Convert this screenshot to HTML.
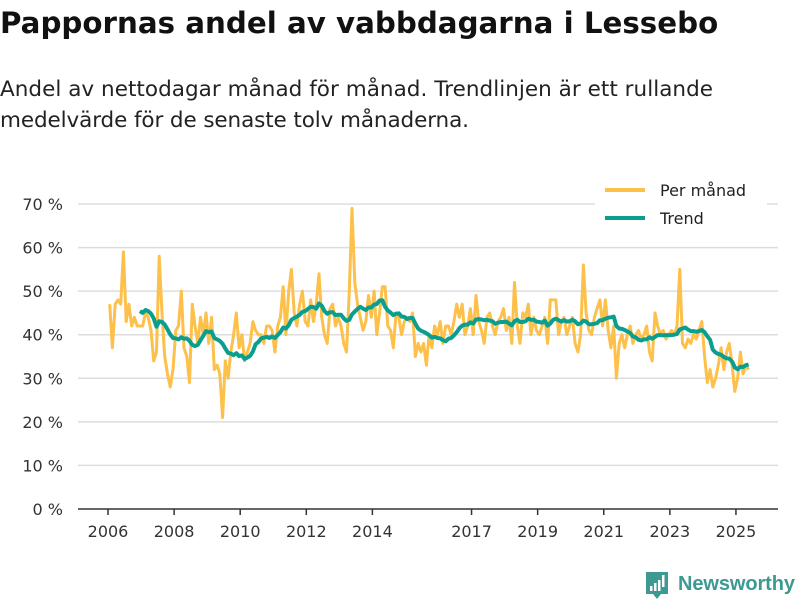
<!DOCTYPE html>
<html><head><meta charset="utf-8">
<style>
body{margin:0;background:#fff;width:800px;height:600px;overflow:hidden;font-family:"Liberation Sans","DejaVu Sans",sans-serif;}
svg text{font-family:"DejaVu Sans","Liberation Sans",sans-serif;}
</style></head>
<body>
<svg id="chart" width="800" height="600">
<text x="0" y="33" font-size="29.3" font-weight="bold" fill="#111">Pappornas andel av vabbdagarna i Lessebo</text>
<text x="0" y="96" font-size="21.5" fill="#222" textLength="713">Andel av nettodagar månad för månad. Trendlinjen är ett rullande</text>
<text x="0" y="127" font-size="21.5" fill="#222" textLength="469">medelvärde för de senaste tolv månaderna.</text>
<g id="grid"></g>
<g id="yaxis"></g>
<g id="xaxis"></g>
<g id="series"></g>
<g>
<rect x="595" y="176" width="172" height="56" fill="#fff"/>
<line x1="605" y1="190" x2="645" y2="190" stroke="#fdc04a" stroke-width="4"/>
<text x="660" y="196" font-size="16" fill="#222">Per månad</text>
<line x1="605" y1="218" x2="645" y2="218" stroke="#0a9e8e" stroke-width="4"/>
<text x="660" y="224" font-size="16" fill="#222">Trend</text>
</g>
<g>
<path d="M646 572 h22 v22 h-7 l-4 5 l-4 -5 h-7 z" fill="#3c9a92"/>
<rect x="650" y="586" width="2.5" height="5" fill="#fff"/><rect x="654" y="583" width="2.5" height="8" fill="#fff"/><rect x="658" y="580" width="2.5" height="11" fill="#fff"/><rect x="662" y="575" width="2.5" height="12" fill="#fff"/>
<text x="678" y="590" font-size="20" font-weight="bold" fill="#3c9a92" textLength="117" style="font-family:'Liberation Sans',sans-serif">Newsworthy</text>
</g>
</svg>
<script>
const yTicks=[0,10,20,30,40,50,60,70];
const yTickLabels=["0 %","10 %","20 %","30 %","40 %","50 %","60 %","70 %"];
const xTicks=[2006,2008,2010,2012,2014,2017,2019,2021,2023,2025];
const startYear=2006;
const perManad=[
47,37,47,48,47,59,43,47,42,44,42,42,
42,45,44,41,34,36,58,45,35,31,28,32,
41,42,50,37,35,29,47,42,38,44,40,45,
38,44,32,33,31,21,34,30,36,40,45,37,
40,34,36,38,43,41,40,40,38,42,42,41,
36,42,44,51,40,50,55,45,42,47,50,43,
42,48,43,47,54,44,40,38,46,47,42,44,
42,38,36,50,69,52,47,44,41,43,49,44,
50,40,45,51,51,42,41,37,45,44,40,43,
44,43,45,35,38,36,38,33,40,37,42,40,
43,38,42,42,40,43,47,44,47,40,42,46,
40,49,43,41,38,44,45,42,40,43,44,46,
41,44,38,52,42,38,45,44,47,40,44,41,
40,42,44,38,48,48,48,40,43,44,40,42,
44,38,36,40,56,45,41,40,44,46,48,42,
48,41,37,42,30,38,40,37,40,42,38,40,
41,39,40,42,36,34,45,42,40,41,39,40,
41,40,42,55,38,37,39,38,40,39,41,43,
35,29,32,28,30,33,37,32,36,38,33,27,
30,36,31,33,32];
const NS="http://www.w3.org/2000/svg";
const x=t=>108+(t-2006)*33.05;
const y=v=>509-v*4.357;
function mk(tag,attrs,parent){const e=document.createElementNS(NS,tag);for(const k in attrs)e.setAttribute(k,attrs[k]);parent.appendChild(e);return e;}
const grid=document.getElementById('grid'),ya=document.getElementById('yaxis'),xa=document.getElementById('xaxis'),ser=document.getElementById('series');
yTicks.forEach((v,i)=>{
  if(v>0){const l=mk('line',{x1:78,x2:778,y1:y(v),y2:y(v),stroke:'#ddd','stroke-width':1.5},grid);
  
  }
  const t=mk('text',{x:63,y:y(v)+6,'font-size':16,fill:'#333','text-anchor':'end'},ya);t.textContent=yTickLabels[i];
  
  
});
const ax=mk('line',{x1:78,x2:778,y1:509,y2:509,stroke:'#333','stroke-width':1.5},xa);


xTicks.forEach(yr=>{
  mk('line',{x1:x(yr),x2:x(yr),y1:509,y2:515,stroke:'#333','stroke-width':1.5},xa);
  const t=mk('text',{x:x(yr),y:537,'font-size':16,fill:'#333','text-anchor':'middle'},xa);t.textContent=yr;
  
  
});
const tx=i=>x(startYear+i/12+0.05);
let d=perManad.map((v,i)=>(i?'L':'M')+tx(i).toFixed(1)+' '+y(v).toFixed(1)).join(' ');
const p1=mk('path',{d:d,fill:'none',stroke:'#fdc04a','stroke-width':3,'stroke-linejoin':'round'},ser);


let td='';
for(let i=11;i<perManad.length;i++){let s=0;for(let j=i-11;j<=i;j++)s+=perManad[j];td+=(i>11?'L':'M')+tx(i).toFixed(1)+' '+y(s/12).toFixed(1)+' ';}
const p2=mk('path',{d:td,fill:'none',stroke:'#0a9e8e','stroke-width':4,'stroke-linejoin':'round'},ser);


</script>
</body></html>
